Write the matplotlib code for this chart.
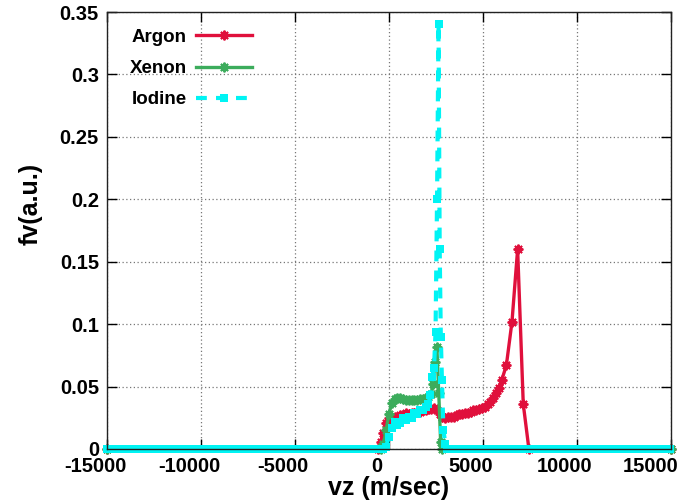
import numpy as np
import matplotlib
matplotlib.use("Agg")
import matplotlib.pyplot as plt
import matplotlib.transforms as mtransforms

plt.rcParams['font.family'] = ['Liberation Sans', 'DejaVu Sans']
plt.rcParams['font.weight'] = 'bold'

# ---------------- data ----------------
argon_vz = [-15000, -600, -450, -300, -150, 0, 150, 300, 450, 600, 750, 900, 1050, 1200,
            1350, 1500, 1650, 1800, 1950, 2100, 2250, 2400, 2550, 2700, 2850, 3000,
            3150, 3300, 3450, 3600, 3750, 3900, 4050, 4200, 4350, 4500, 4650, 4800,
            4950, 5100, 5250, 5400, 5550, 5700, 5850, 6000, 6250, 6550, 6850, 7150,
            7450, 15000]
argon_fv = [0, 0, 0.006, 0.013, 0.021, 0.025, 0.025, 0.026, 0.025, 0.027, 0.027, 0.029,
            0.028, 0.029, 0.029, 0.030, 0.030, 0.031, 0.031, 0.032, 0.032, 0.033, 0.031,
            0.028, 0.026, 0.025, 0.026, 0.026, 0.026, 0.027, 0.028, 0.028, 0.029, 0.029,
            0.030, 0.031, 0.031, 0.032, 0.033, 0.034, 0.036, 0.038, 0.041, 0.045, 0.049,
            0.055, 0.067, 0.102, 0.160, 0.036, 0.0, 0]

xenon_vz = [-15000, -450, -300, -150, 0, 150, 300, 450, 600, 750, 900, 1050, 1200, 1350,
            1500, 1650, 1800, 1950, 2100, 2250, 2350, 2450, 2550, 2650, 2750, 2850, 15000]
xenon_fv = [0, 0, 0.004, 0.015, 0.028, 0.037, 0.040, 0.041, 0.041, 0.040, 0.039, 0.039,
            0.039, 0.039, 0.039, 0.040, 0.040, 0.041, 0.042, 0.044, 0.052, 0.070, 0.082,
            0.045, 0.006, 0, 0]

iodine_core_vz = [-300, -150, 0, 150, 300, 450, 600, 750, 900, 1050, 1200, 1350, 1500,
                  1650, 1800, 1950, 2100, 2200, 2300, 2400, 2480, 2560, 2640, 2700, 2760,
                  2820, 2900, 3000, 3100]
iodine_core_fv = [0, 0.002, 0.010, 0.017, 0.022, 0.019, 0.021, 0.025, 0.023, 0.026,
                  0.025, 0.029, 0.028, 0.031, 0.031, 0.034, 0.036, 0.043, 0.058, 0.065,
                  0.094, 0.200, 0.340, 0.160, 0.090, 0.055, 0.015, 0.004, 0]
# zero-valued samples on both sides of the iodine peak region
iodine_left_vz = list(np.arange(-15000, -300, 150))
iodine_right_vz = list(np.arange(3250, 15001, 150))
iodine_vz = iodine_left_vz + iodine_core_vz + iodine_right_vz
iodine_fv = [0] * len(iodine_left_vz) + iodine_core_fv + [0] * len(iodine_right_vz)

x_ticks = [-15000, -10000, -5000, 0, 5000, 10000, 15000]
y_ticks = [0, 0.05, 0.1, 0.15, 0.2, 0.25, 0.3, 0.35]
y_tick_labels = ['0', '0.05', '0.1', '0.15', '0.2', '0.25', '0.3', '0.35']

# ---------------- figure ----------------
fig = plt.figure(figsize=(6.83, 5.0), dpi=100)
ax = fig.add_axes([0.157, 0.102, 0.825, 0.874])

red = '#e0103c'
green = '#3cac5c'
cyan = '#00f4f4'

ast = (8, 2, 0)
ax.plot(argon_vz, argon_fv, color=red, lw=2.4, marker=ast, ms=7, mew=1.4,
        label='Argon', clip_on=False, zorder=2)
ax.plot(xenon_vz, xenon_fv, color=green, lw=2.4, marker=ast, ms=7, mew=1.4,
        label='Xenon', clip_on=False, zorder=2.1)
ax.plot(iodine_vz, iodine_fv, color=cyan, lw=3.0, dashes=(2.6, 2.2), marker='s',
        ms=5.8, mew=0, label='Iodine', clip_on=False, zorder=2.2)

ax.set_xlim(-15000, 15000)
ax.set_ylim(0, 0.35)
ax.set_xticks(x_ticks)
ax.set_xticklabels([str(t) for t in x_ticks])
ax.set_yticks(y_ticks)
ax.set_yticklabels(y_tick_labels)

ax.tick_params(direction='in', length=7, width=1, top=True, right=True,
               labelsize=14.5, pad=6)
for lab in ax.get_xticklabels() + ax.get_yticklabels():
    lab.set_fontweight('bold')
xlabs = ax.get_xticklabels()
for i, lab in enumerate(xlabs):
    shift = -20 if i == len(xlabs) - 1 else -12
    off = mtransforms.ScaledTranslation(shift / 100, 0, fig.dpi_scale_trans)
    lab.set_transform(lab.get_transform() + off)

ax.grid(True, color='#777777', linestyle=(0, (1, 2)), linewidth=0.9)
for sp in ax.spines.values():
    sp.set_linewidth(1.0)
    sp.set_color('#222222')
    sp.set_zorder(3)

ax.set_xlabel('vz (m/sec)', fontsize=18, fontweight='bold', labelpad=0)
ax.set_ylabel('fv(a.u.)', fontsize=18, fontweight='bold')
ax.yaxis.set_label_coords(-0.115, 0.56)

leg = ax.legend(loc='upper left', bbox_to_anchor=(0.01, 1.0), frameon=False,
                markerfirst=False, fontsize=13.5, handlelength=3.0,
                handletextpad=0.5, labelspacing=0.75)
for t in leg.get_texts():
    t.set_fontweight('bold')

fig.savefig('out.png', dpi=100)
